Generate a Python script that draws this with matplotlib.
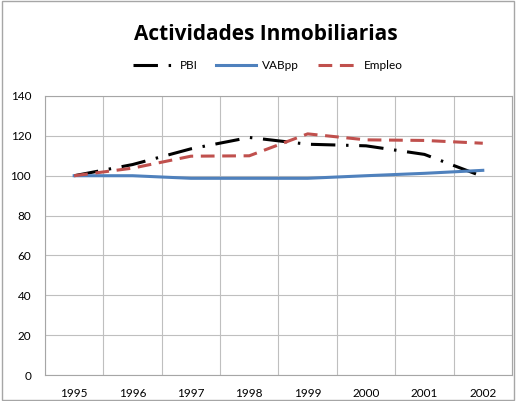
import numpy as np
import matplotlib.pyplot as plt
from matplotlib.patches import Rectangle

plt.rcParams['font.family'] = ['Lato', 'DejaVu Sans']

years = [1995, 1996, 1997, 1998, 1999, 2000, 2001, 2002]
pbi = [100, 105.6, 113.5, 119.2, 115.8, 115.0, 110.7, 99.6]
vabpp = [100, 100, 98.7, 98.7, 98.7, 100, 101.2, 102.7]
empleo = [100, 103.8, 109.8, 110.0, 121.0, 118.0, 117.7, 116.3]

fig = plt.figure(figsize=(5.16, 4.01), dpi=100)
ax = fig.add_axes([0.0872, 0.0648, 0.905, 0.6958])

ax.plot(years, pbi, color="black", lw=2.2, dashes=(8, 3.5, 0.8, 3.5), label="PBI")
ax.plot(years, vabpp, color="#4F81BD", lw=2.2, label="VABpp")
ax.plot(years, empleo, color="#C0504D", lw=2.2, dashes=(4.5, 2.5), label="Empleo")

ax.set_xlim(1994.5, 2002.5)
ax.set_ylim(0, 140)
ax.set_yticks(np.arange(0, 141, 20))
ax.set_xticks(years)
ax.set_xticks(np.arange(1994.5, 2002.6, 0.5), minor=True)
ax.grid(True, which="minor", axis="x", color="#BFBFBF", lw=0.8)
ax.grid(True, which="major", axis="y", color="#BFBFBF", lw=0.8)
ax.set_axisbelow(True)
ax.tick_params(which="both", length=0, labelsize=8.5)
ax.tick_params(axis="y", pad=10)
ax.tick_params(axis="x", pad=9)
for s in ax.spines.values():
    s.set_color("#A6A6A6")
    s.set_linewidth(0.8)

fig.text(0.515, 0.915, "Actividades Inmobiliarias", ha="center", va="center",
         fontsize=15, fontweight="bold", family="Open Sans")
fig.legend(loc="center", bbox_to_anchor=(0.52, 0.836), ncol=3, frameon=False,
           fontsize=8.5, handlelength=3.4, columnspacing=1.6, handletextpad=0.5)

# chart border
fig.patches.append(Rectangle((0.003, 0.003), 0.994, 0.994, transform=fig.transFigure,
                             fill=False, edgecolor="#A6A6A6", lw=1))

fig.savefig("out.png", dpi=100)
